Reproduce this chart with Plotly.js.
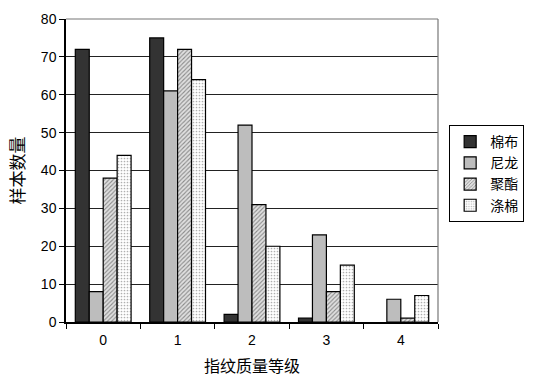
<!DOCTYPE html>
<html><head><meta charset="utf-8">
<script src="https://cdn.plot.ly/plotly-3.0.1.min.js"></script>
<style>body{margin:0;background:#fff}#c{width:550px;height:383px}</style>
</head><body><div id="c"></div>
<script>
const categories = ["0", "1", "2", "3", "4"];
const seriesNames = ["棉布", "尼龙", "聚酯", "涤棉"];
const cotton = [72, 75, 2, 1, 0];
const nylon = [8, 61, 52, 23, 6];
const polyester = [38, 72, 31, 8, 1];
const polycotton = [44, 64, 20, 15, 7];
const yTicks = [0, 10, 20, 30, 40, 50, 60, 70, 80];

const styles = [
  {color: "#333333", pattern: {shape: ""}},
  {color: "#bdbdbd", pattern: {shape: ""}},
  {color: "#d8d8d8", pattern: {shape: "/", fgcolor: "#8a8a8a", bgcolor: "#e0e0e0", size: 3, solidity: 0.35}},
  {color: "#ffffff", pattern: {shape: ".", fgcolor: "#b0b0b0", bgcolor: "#ffffff", size: 3, solidity: 0.25}}
];
const values = [cotton, nylon, polyester, polycotton];
const traces = values.map((v, i) => ({
  type: "bar", x: categories, y: v, name: seriesNames[i],
  marker: {color: styles[i].color, pattern: styles[i].pattern,
    line: {color: "#000", width: v.map(d => d === 0 ? 0 : 1.2)}}
}));

const layout = {
  width: 550, height: 383,
  margin: {l: 66, r: 112, t: 19, b: 61},
  paper_bgcolor: "#fff", plot_bgcolor: "#fff",
  barmode: "group", bargap: 0.25, bargroupgap: 0,
  font: {family: "Liberation Sans, Arial, sans-serif", size: 14, color: "#000"},
  xaxis: {
    type: "category", tickson: "boundaries", ticks: "outside", ticklen: 5, tickcolor: "#000",
    showline: true, linecolor: "#000", linewidth: 1.5, showgrid: false, mirror: false,
    tickfont: {size: 14}, ticklabelstandoff: 4,
    title: {text: "指纹质量等级", font: {family: "Noto Sans CJK SC", size: 16}, standoff: 14}
  },
  yaxis: {
    range: [0, 80], tickvals: yTicks, ticks: "outside", ticklen: 5, tickcolor: "#000",
    showline: true, linecolor: "#000", linewidth: 1.5,
    showgrid: true, gridcolor: "#222", gridwidth: 1.2, zeroline: false,
    tickfont: {size: 14},
    title: {text: "样本数量", font: {family: "Noto Sans CJK SC", size: 17}, standoff: 12}
  },
  legend: {
    x: 1.03, y: 0.49, xanchor: "left", yanchor: "middle",
    bordercolor: "#000", borderwidth: 1, bgcolor: "#fff",
    font: {family: "Noto Sans CJK SC", size: 14}, tracegroupgap: 0, itemwidth: 30
  },
  shapes: [
    {type: "line", xref: "paper", yref: "paper", x0: 0, x1: 1, y0: 1, y1: 1, line: {color: "#777", width: 1.2}},
    {type: "line", xref: "paper", yref: "paper", x0: 1, x1: 1, y0: 0, y1: 1, line: {color: "#777", width: 1.2}}
  ]
};
Plotly.newPlot("c", traces, layout, {displayModeBar: false});
</script></body></html>
